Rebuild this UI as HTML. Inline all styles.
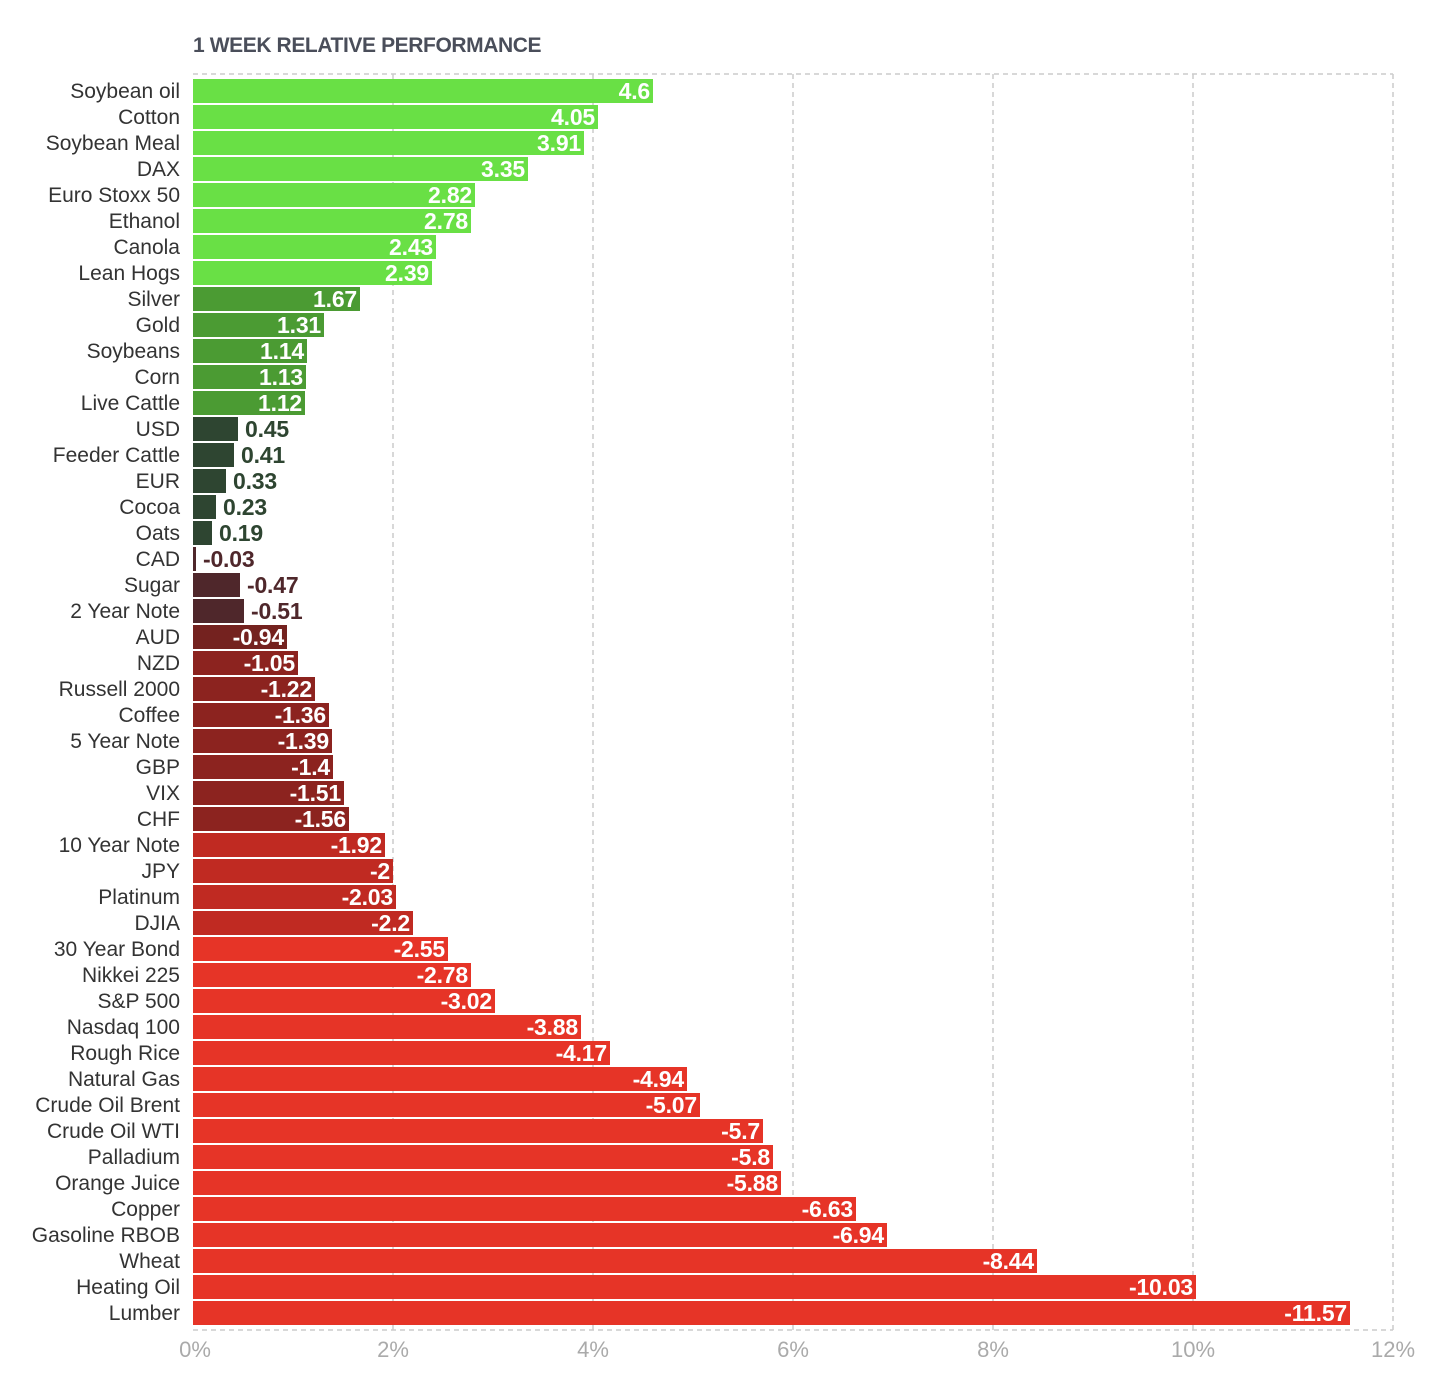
<!DOCTYPE html>
<html><head><meta charset="utf-8"><style>
html,body{margin:0;padding:0;background:#fff;}
svg{display:block;font-family:"Liberation Sans",sans-serif;}
.c{font-size:21px;fill:#333;text-anchor:end;}
.v{font-size:23px;font-weight:bold;fill:#fff;text-anchor:end;letter-spacing:-0.2px;}
.o{font-size:23px;font-weight:bold;text-anchor:start;letter-spacing:-0.2px;}
.ax{font-size:22px;fill:#aaa;text-anchor:middle;}
.g{stroke:#ccc;stroke-width:1.5;stroke-dasharray:5,4;fill:none;}
.G1{fill:#69e045}.G2{fill:#4b9b33}.G3{fill:#2e4531}.R0{fill:#4f272b}.R1{fill:#74221f}.R2{fill:#8c231f}.R3{fill:#c02a22}.R4{fill:#e63427}
</style></head><body>
<svg width="1448" height="1381" viewBox="0 0 1448 1381">
<text x="193" y="52" style="font-size:21px;font-weight:bold;fill:#4a4e5a;letter-spacing:-0.4px">1 WEEK RELATIVE PERFORMANCE</text>
<path class="g" d="M193 74H1393M193 1330H1393M393 74V1330M593 74V1330M793 74V1330M993 74V1330M1193 74V1330M1393 74V1330"/>
<g>
<rect class="G1" x="193" y="79" width="460" height="24"/>
<rect class="G1" x="193" y="105" width="405" height="24"/>
<rect class="G1" x="193" y="131" width="391" height="24"/>
<rect class="G1" x="193" y="157" width="335" height="24"/>
<rect class="G1" x="193" y="183" width="282" height="24"/>
<rect class="G1" x="193" y="209" width="278" height="24"/>
<rect class="G1" x="193" y="235" width="243" height="24"/>
<rect class="G1" x="193" y="261" width="239" height="24"/>
<rect class="G2" x="193" y="287" width="167" height="24"/>
<rect class="G2" x="193" y="313" width="131" height="24"/>
<rect class="G2" x="193" y="339" width="114" height="24"/>
<rect class="G2" x="193" y="365" width="113" height="24"/>
<rect class="G2" x="193" y="391" width="112" height="24"/>
<rect class="G3" x="193" y="417" width="45" height="24"/>
<rect class="G3" x="193" y="443" width="41" height="24"/>
<rect class="G3" x="193" y="469" width="33" height="24"/>
<rect class="G3" x="193" y="495" width="23" height="24"/>
<rect class="G3" x="193" y="521" width="19" height="24"/>
<rect class="R0" x="193" y="547" width="3" height="24"/>
<rect class="R0" x="193" y="573" width="47" height="24"/>
<rect class="R0" x="193" y="599" width="51" height="24"/>
<rect class="R1" x="193" y="625" width="94" height="24"/>
<rect class="R2" x="193" y="651" width="105" height="24"/>
<rect class="R2" x="193" y="677" width="122" height="24"/>
<rect class="R2" x="193" y="703" width="136" height="24"/>
<rect class="R2" x="193" y="729" width="139" height="24"/>
<rect class="R2" x="193" y="755" width="140" height="24"/>
<rect class="R2" x="193" y="781" width="151" height="24"/>
<rect class="R2" x="193" y="807" width="156" height="24"/>
<rect class="R3" x="193" y="833" width="192" height="24"/>
<rect class="R3" x="193" y="859" width="200" height="24"/>
<rect class="R3" x="193" y="885" width="203" height="24"/>
<rect class="R3" x="193" y="911" width="220" height="24"/>
<rect class="R4" x="193" y="937" width="255" height="24"/>
<rect class="R4" x="193" y="963" width="278" height="24"/>
<rect class="R4" x="193" y="989" width="302" height="24"/>
<rect class="R4" x="193" y="1015" width="388" height="24"/>
<rect class="R4" x="193" y="1041" width="417" height="24"/>
<rect class="R4" x="193" y="1067" width="494" height="24"/>
<rect class="R4" x="193" y="1093" width="507" height="24"/>
<rect class="R4" x="193" y="1119" width="570" height="24"/>
<rect class="R4" x="193" y="1145" width="580" height="24"/>
<rect class="R4" x="193" y="1171" width="588" height="24"/>
<rect class="R4" x="193" y="1197" width="663" height="24"/>
<rect class="R4" x="193" y="1223" width="694" height="24"/>
<rect class="R4" x="193" y="1249" width="844" height="24"/>
<rect class="R4" x="193" y="1275" width="1003" height="24"/>
<rect class="R4" x="193" y="1301" width="1157" height="24"/>
</g>
<g>
<text class="c" x="180" y="98">Soybean oil</text>
<text class="c" x="180" y="124">Cotton</text>
<text class="c" x="180" y="150">Soybean Meal</text>
<text class="c" x="180" y="176">DAX</text>
<text class="c" x="180" y="202">Euro Stoxx 50</text>
<text class="c" x="180" y="228">Ethanol</text>
<text class="c" x="180" y="254">Canola</text>
<text class="c" x="180" y="280">Lean Hogs</text>
<text class="c" x="180" y="306">Silver</text>
<text class="c" x="180" y="332">Gold</text>
<text class="c" x="180" y="358">Soybeans</text>
<text class="c" x="180" y="384">Corn</text>
<text class="c" x="180" y="410">Live Cattle</text>
<text class="c" x="180" y="436">USD</text>
<text class="c" x="180" y="462">Feeder Cattle</text>
<text class="c" x="180" y="488">EUR</text>
<text class="c" x="180" y="514">Cocoa</text>
<text class="c" x="180" y="540">Oats</text>
<text class="c" x="180" y="566">CAD</text>
<text class="c" x="180" y="592">Sugar</text>
<text class="c" x="180" y="618">2 Year Note</text>
<text class="c" x="180" y="644">AUD</text>
<text class="c" x="180" y="670">NZD</text>
<text class="c" x="180" y="696">Russell 2000</text>
<text class="c" x="180" y="722">Coffee</text>
<text class="c" x="180" y="748">5 Year Note</text>
<text class="c" x="180" y="774">GBP</text>
<text class="c" x="180" y="800">VIX</text>
<text class="c" x="180" y="826">CHF</text>
<text class="c" x="180" y="852">10 Year Note</text>
<text class="c" x="180" y="878">JPY</text>
<text class="c" x="180" y="904">Platinum</text>
<text class="c" x="180" y="930">DJIA</text>
<text class="c" x="180" y="956">30 Year Bond</text>
<text class="c" x="180" y="982">Nikkei 225</text>
<text class="c" x="180" y="1008">S&amp;P 500</text>
<text class="c" x="180" y="1034">Nasdaq 100</text>
<text class="c" x="180" y="1060">Rough Rice</text>
<text class="c" x="180" y="1086">Natural Gas</text>
<text class="c" x="180" y="1112">Crude Oil Brent</text>
<text class="c" x="180" y="1138">Crude Oil WTI</text>
<text class="c" x="180" y="1164">Palladium</text>
<text class="c" x="180" y="1190">Orange Juice</text>
<text class="c" x="180" y="1216">Copper</text>
<text class="c" x="180" y="1242">Gasoline RBOB</text>
<text class="c" x="180" y="1268">Wheat</text>
<text class="c" x="180" y="1294">Heating Oil</text>
<text class="c" x="180" y="1320">Lumber</text>
</g>
<g>
<text class="v" x="650" y="99">4.6</text>
<text class="v" x="595" y="125">4.05</text>
<text class="v" x="581" y="151">3.91</text>
<text class="v" x="525" y="177">3.35</text>
<text class="v" x="472" y="203">2.82</text>
<text class="v" x="468" y="229">2.78</text>
<text class="v" x="433" y="255">2.43</text>
<text class="v" x="429" y="281">2.39</text>
<text class="v" x="357" y="307">1.67</text>
<text class="v" x="321" y="333">1.31</text>
<text class="v" x="304" y="359">1.14</text>
<text class="v" x="303" y="385">1.13</text>
<text class="v" x="302" y="411">1.12</text>
<text class="o G3" x="245" y="437">0.45</text>
<text class="o G3" x="241" y="463">0.41</text>
<text class="o G3" x="233" y="489">0.33</text>
<text class="o G3" x="223" y="515">0.23</text>
<text class="o G3" x="219" y="541">0.19</text>
<text class="o R0" x="203" y="567">-0.03</text>
<text class="o R0" x="247" y="593">-0.47</text>
<text class="o R0" x="251" y="619">-0.51</text>
<text class="v" x="284" y="645">-0.94</text>
<text class="v" x="295" y="671">-1.05</text>
<text class="v" x="312" y="697">-1.22</text>
<text class="v" x="326" y="723">-1.36</text>
<text class="v" x="329" y="749">-1.39</text>
<text class="v" x="330" y="775">-1.4</text>
<text class="v" x="341" y="801">-1.51</text>
<text class="v" x="346" y="827">-1.56</text>
<text class="v" x="382" y="853">-1.92</text>
<text class="v" x="390" y="879">-2</text>
<text class="v" x="393" y="905">-2.03</text>
<text class="v" x="410" y="931">-2.2</text>
<text class="v" x="445" y="957">-2.55</text>
<text class="v" x="468" y="983">-2.78</text>
<text class="v" x="492" y="1009">-3.02</text>
<text class="v" x="578" y="1035">-3.88</text>
<text class="v" x="607" y="1061">-4.17</text>
<text class="v" x="684" y="1087">-4.94</text>
<text class="v" x="697" y="1113">-5.07</text>
<text class="v" x="760" y="1139">-5.7</text>
<text class="v" x="770" y="1165">-5.8</text>
<text class="v" x="778" y="1191">-5.88</text>
<text class="v" x="853" y="1217">-6.63</text>
<text class="v" x="884" y="1243">-6.94</text>
<text class="v" x="1034" y="1269">-8.44</text>
<text class="v" x="1193" y="1295">-10.03</text>
<text class="v" x="1347" y="1321">-11.57</text>
</g>
<g>
<text class="ax" x="195" y="1357">0%</text>
<text class="ax" x="393" y="1357">2%</text>
<text class="ax" x="593" y="1357">4%</text>
<text class="ax" x="793" y="1357">6%</text>
<text class="ax" x="993" y="1357">8%</text>
<text class="ax" x="1193" y="1357">10%</text>
<text class="ax" x="1393" y="1357">12%</text>
</g>
</svg>
</body></html>
